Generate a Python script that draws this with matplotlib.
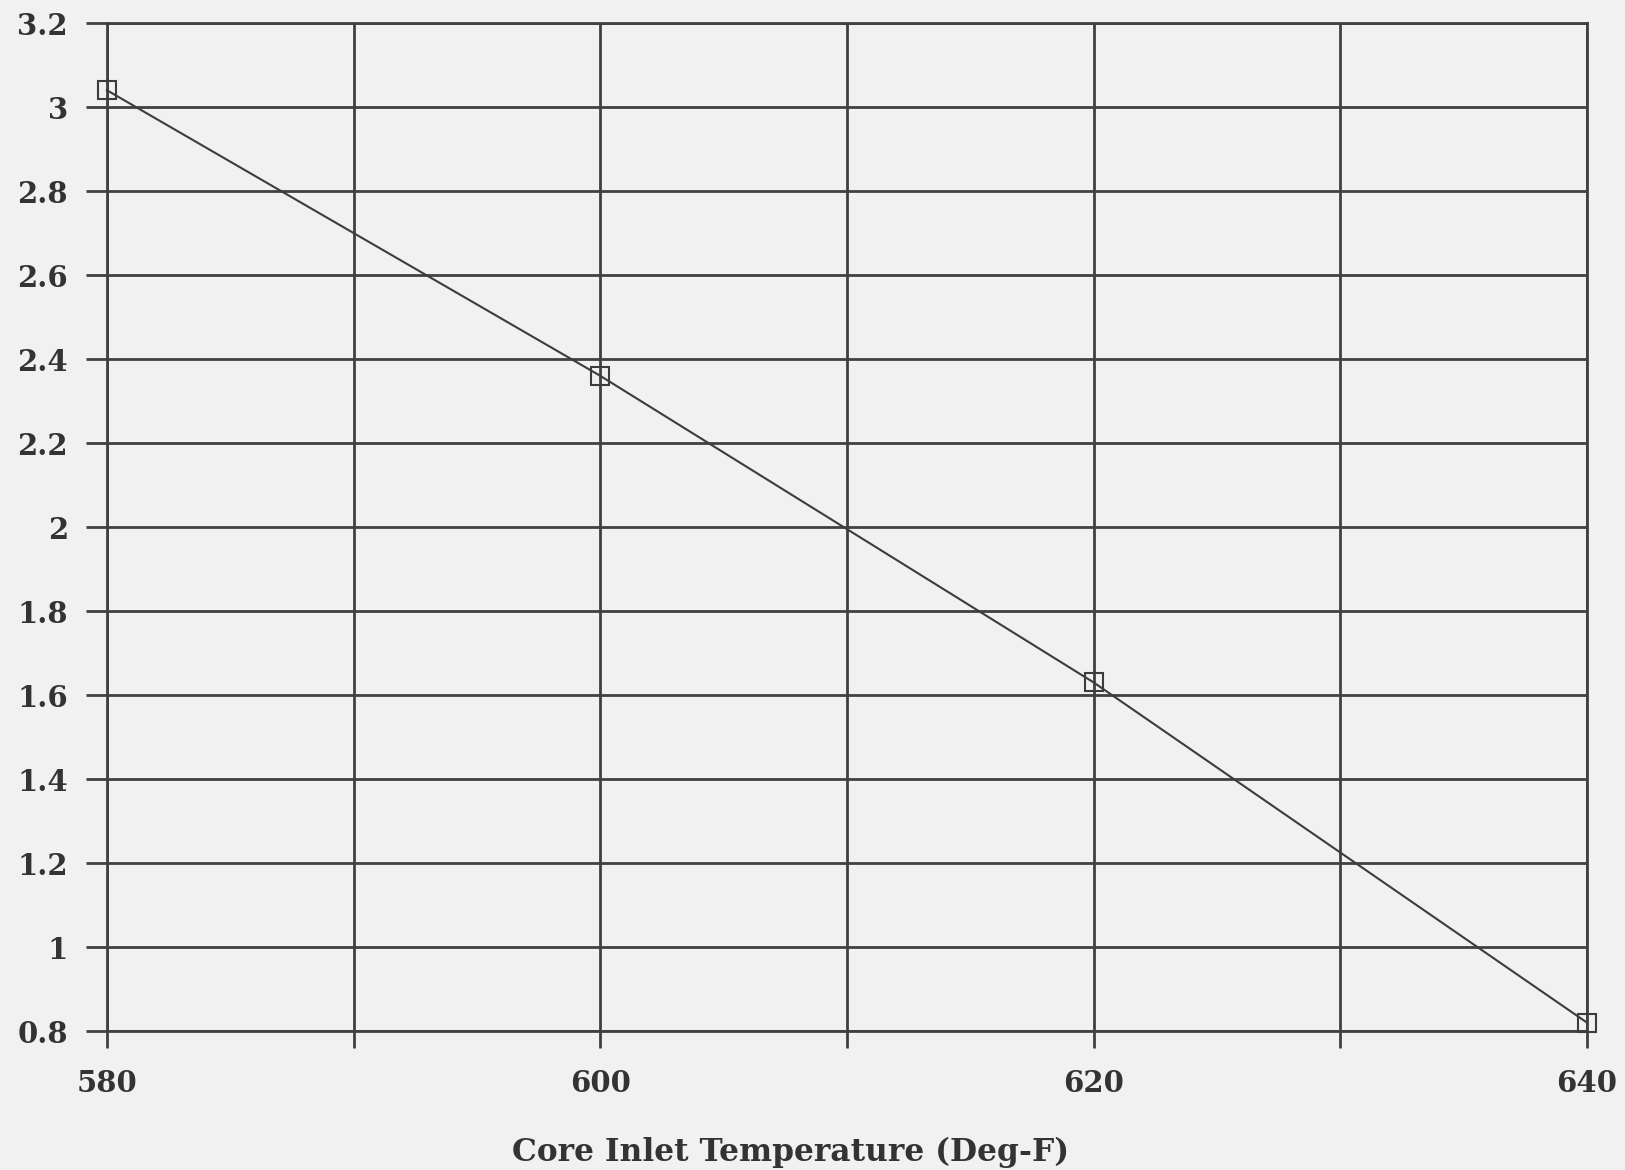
import matplotlib
matplotlib.use("Agg")
import matplotlib.pyplot as plt
from matplotlib.ticker import FixedLocator, FuncFormatter

# Data
temps = [580, 600, 620, 640]
values = [3.04, 2.36, 1.63, 0.82]
x_ticks = [580, 590, 600, 610, 620, 630, 640]
x_tick_labels = ["580", "", "600", "", "620", "", "640"]
y_ticks = [0.8, 1.0, 1.2, 1.4, 1.6, 1.8, 2.0, 2.2, 2.4, 2.6, 2.8, 3.0, 3.2]
x_label = "Core Inlet Temperature (Deg-F)"

bg = "#f1f1f1"
grid_c = "#404040"

fig = plt.figure(figsize=(16.25, 11.7), dpi=100, facecolor=bg)
ax = fig.add_axes([0.0658, 0.1188, 0.9766 - 0.0658, 0.9803 - 0.1188])
ax.set_facecolor(bg)

ax.plot(temps, values, color="#3c3c3c", linewidth=1.5, marker="s",
        markersize=13, markerfacecolor="none", markeredgecolor="#3c3c3c",
        markeredgewidth=1.5, zorder=3, clip_on=False)

ax.set_xlim(580, 640)
ax.set_ylim(0.8, 3.2)
ax.xaxis.set_major_locator(FixedLocator(x_ticks))
ax.set_xticklabels(x_tick_labels)
ax.yaxis.set_major_locator(FixedLocator(y_ticks))
ax.yaxis.set_major_formatter(FuncFormatter(lambda v, p: "%g" % round(v, 1)))

ax.grid(True, color=grid_c, linewidth=2.0)
ax.set_axisbelow(True)
for s in ax.spines.values():
    s.set_color(grid_c)
    s.set_linewidth(2.0)
    s.set_zorder(0.5)

fs = 21
font = dict(family="DejaVu Serif", weight="bold", size=22.5, color="#333333")
ax.tick_params(axis="x", direction="out", length=12, width=2.0, color=grid_c,
               pad=15, labelsize=fs, labelcolor="#333333")
ax.tick_params(axis="y", direction="out", length=15, width=2.0, color=grid_c,
               pad=13, labelsize=fs, labelcolor="#333333")
for lab in ax.get_xticklabels() + ax.get_yticklabels():
    lab.set_fontfamily("DejaVu Serif")
    lab.set_fontweight("bold")

ax.set_xlabel(x_label, fontdict=font)
ax.xaxis.set_label_coords(0.462, -0.105)

fig.savefig("out.png", dpi=100, facecolor=bg)
